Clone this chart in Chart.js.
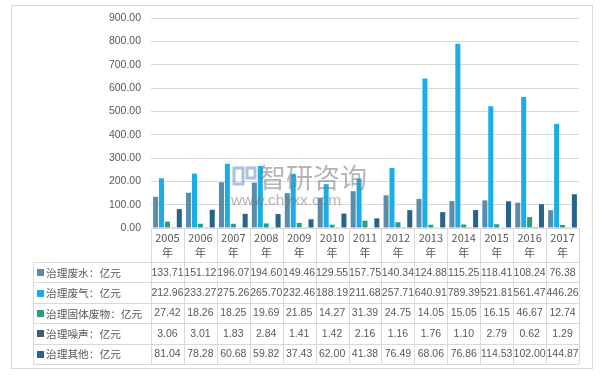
<!DOCTYPE html>
<html>
<head>
<meta charset="utf-8">
<script src="https://cdn.jsdelivr.net/npm/chart.js@4.4.1/dist/chart.umd.min.js"></script>
<style>
  html, body { margin:0; padding:0; background:#fff; }
  #wrap { width:600px; height:376px; position:relative; }
</style>
</head>
<body>
<div id="wrap"><canvas id="chartZhili"></canvas></div>
<script>
const years = ['2005','2006','2007','2008','2009','2010','2011','2012','2013','2014','2015','2016','2017'];
const seriesNames = ['治理废水：亿元','治理废气：亿元','治理固体废物：亿元','治理噪声：亿元','治理其他：亿元'];
const feishui = [133.71,151.12,196.07,194.60,149.46,129.55,157.75,140.34,124.88,115.25,118.41,108.24,76.38];
const feiqi   = [212.96,233.27,275.26,265.70,232.46,188.19,211.68,257.71,640.91,789.39,521.81,561.47,446.26];
const guti    = [27.42,18.26,18.25,19.69,21.85,14.27,31.39,24.75,14.05,15.05,16.15,46.67,12.74];
const zaosheng = [3.06,3.01,1.83,2.84,1.41,1.42,2.16,1.16,1.76,1.10,2.79,0.62,1.29];
const qita    = [81.04,78.28,60.68,59.82,37.43,62.00,41.38,76.49,68.06,76.86,114.53,102.00,144.87];
const yTicks = [0,100,200,300,400,500,600,700,800,900];

const colors = ['#5b8dab','#1cade6','#2f9a88','#3e5f72','#27648b'];
const allData = [feishui, feiqi, guti, zaosheng, qita];
const txt = '#595959', line = '#d9d9d9';
const cjk = '"Noto Sans CJK SC", sans-serif';
const num = '"Liberation Sans", "Noto Sans CJK SC", sans-serif';

// data table + frame + watermark
const tablePlugin = {
  id:'tablePlugin',
  afterDatasetsDraw(chart){
    const c = chart.ctx;
    c.save();
    // watermark
    c.fillStyle = 'rgba(120,120,120,0.55)';
    c.textBaseline = 'middle';
    c.font = '27px ' + cjk;
    c.fillText('智研咨询', 259, 178);
    c.font = '15.5px ' + num;
    c.fillText('www.chyxx.com', 231, 201);
    c.strokeStyle = 'rgba(120,150,200,0.6)';
    c.lineWidth = 3;
    c.strokeRect(234, 168, 9, 16);
    c.strokeRect(247, 168, 8, 10);
    c.restore();
  },
  afterDraw(chart){
    const c = chart.ctx, a = chart.chartArea, xs = chart.scales.x;
    const colW = a.width / years.length;
    const rowTop = 262, rowH = 20.4, labelLeft = 33;
    const bottom = rowTop + rowH * allData.length;
    c.save();
    c.strokeStyle = line;
    c.lineWidth = 1;
    // outer frame
    c.strokeRect(11.5, 5.5, 581, 363);
    c.beginPath();
    for (let i = 0; i <= years.length; i++) {
      const x = Math.round(a.left + i * colW) + 0.5;
      c.moveTo(x, a.bottom); c.lineTo(x, bottom);
    }
    c.moveTo(labelLeft + 0.5, rowTop); c.lineTo(labelLeft + 0.5, bottom);
    for (let r = 0; r <= allData.length; r++) {
      const y = Math.round(rowTop + r * rowH) + 0.5;
      c.moveTo(labelLeft, y); c.lineTo(a.right, y);
    }
    c.stroke();
    c.textBaseline = 'middle';
    allData.forEach((vals, r) => {
      const cy = rowTop + r * rowH + rowH / 2 + 0.5;
      c.fillStyle = colors[r];
      c.fillRect(37, Math.round(cy - 3.5), 7, 7);
      c.fillStyle = txt;
      c.textAlign = 'left';
      c.font = '10.7px ' + cjk;
      c.fillText(seriesNames[r], 46, cy);
      c.textAlign = 'center';
      c.font = '10.5px ' + num;
      vals.forEach((v, i) => {
        c.fillText(v.toFixed(2), xs.getPixelForValue(i), cy);
      });
    });
    c.restore();
  }
};

new Chart(document.getElementById('chartZhili').getContext('2d'), {
  type:'bar',
  data:{
    labels: years.map(y => [y, '年']),
    datasets: allData.map((d, i) => ({
      label: seriesNames[i], data: d, backgroundColor: colors[i],
      barPercentage: 0.85, categoryPercentage: 0.9
    }))
  },
  options:{
    responsive:true, maintainAspectRatio:false, animation:false,
    layout:{ padding:{ top:18, right:21, left:0, bottom:0 } },
    plugins:{ legend:{ display:false }, tooltip:{ enabled:false } },
    scales:{
      x:{
        grid:{ display:false, drawTicks:false },
        border:{ display:false },
        ticks:{ color:txt, font:{ family:cjk, size:11, lineHeight:1.36 }, padding:2, maxRotation:0, autoSkip:false },
        afterFit(s){ s.height = 148; }
      },
      y:{
        min:0, max:900,
        grid:{ color:line, drawTicks:false },
        border:{ display:false },
        afterBuildTicks(s){ s.ticks = yTicks.map(v => ({ value:v })); },
        ticks:{ color:txt, font:{ family:num, size:10.5 }, padding:10, callback:v => v.toFixed(2) },
        afterFit(s){ s.width = 151; }
      }
    }
  },
  plugins:[tablePlugin]
});
</script>
</body>
</html>
